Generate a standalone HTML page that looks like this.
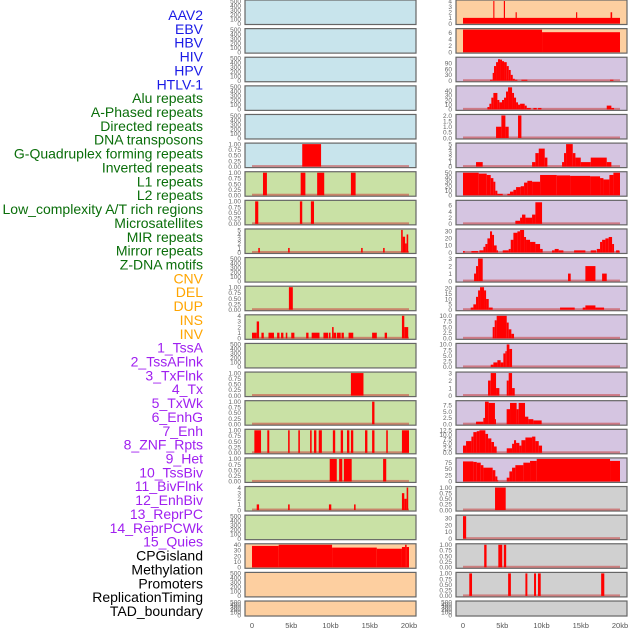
<!DOCTYPE html>
<html><head><meta charset="utf-8"><style>
html,body{margin:0;padding:0;background:#fff;width:630px;height:630px;overflow:hidden}
svg{display:block}
</style></head><body>
<svg id="chart" width="630" height="630" viewBox="0 0 630 630" xmlns="http://www.w3.org/2000/svg"></svg>
<script>
// ---- labels ----
const labelNames = ["AAV2","EBV","HBV","HIV","HPV","HTLV-1","Alu repeats","A-Phased repeats","Directed repeats","DNA transposons","G-Quadruplex forming repeats","Inverted repeats","L1 repeats","L2 repeats","Low_complexity A/T rich regions","Microsatellites","MIR repeats","Mirror repeats","Z-DNA motifs","CNV","DEL","DUP","INS","INV","1_TssA","2_TssAFlnk","3_TxFlnk","4_Tx","5_TxWk","6_EnhG","7_Enh","8_ZNF_Rpts","9_Het","10_TssBiv","11_BivFlnk","12_EnhBiv","13_ReprPC","14_ReprPCWk","15_Quies","CPGisland","Methylation","Promoters","ReplicationTiming","TAD_boundary"];
const labelGroups = [0,0,0,0,0,0,1,1,1,1,1,1,1,1,1,1,1,1,1,2,2,2,2,2,3,3,3,3,3,3,3,3,3,3,3,3,3,3,3,4,4,4,4,4];
const xTickValues = [0,5,10,15,20];
const xTickLabels = ["0","5kb","10kb","15kb","20kb"];

// ---- tick label sets ----
const t500 = ["0","100","200","300","400","500"];
const t1 = ["0.00","0.25","0.50","0.75","1.00"];

// ---- left column data: [startKb, endKb, value] ----
const L6 = [[6.4,8.8,1]];
const L7 = [[1.4,1.9,1],[6.2,6.8,1],[8.3,9.2,1],[12.6,13.2,1]];
const L8 = [[0.4,0.8,1],[6.1,6.4,1],[7.5,7.9,1]];
const L9 = [[0.8,1.0,1],[4.6,4.8,1],[13.9,14.1,1],[16.7,16.9,1],[19.0,19.2,5],[19.2,19.5,3.5],[19.5,19.7,2],[19.7,19.9,4]];
const L11 = [[4.7,5.2,1]];
const L12 = [[0,0.6,1],[0.6,0.9,3],[1.2,1.5,1],[2.1,2.8,1],[3.2,3.5,1],[3.7,4.0,1],[4.3,4.5,1],[5.0,5.4,1],[6.9,7.2,1],[7.6,8.6,1],[9.1,9.7,1],[9.8,10.0,1],[10.2,10.4,2],[10.4,10.7,1],[10.8,11.3,1],[11.4,11.7,1],[12.3,12.9,1],[15.3,15.9,1],[16.9,17.2,1],[19.1,19.4,4],[19.4,19.9,2]];
const L14 = [[12.6,14.2,1]];
const L15 = [[15.3,15.6,1]];
const L16 = [[0.3,1.15,1],[1.95,2.2,1],[4.6,4.8,1],[5.9,6.1,1],[7.4,7.6,1],[7.9,8.2,1],[8.5,8.9,1],[10.3,10.6,1],[11.3,11.6,1],[12.1,12.4,1],[12.6,12.9,1],[14.4,14.7,1],[15.3,15.6,1],[17.1,17.3,1],[19.1,20.0,1]];
const L17 = [[9.9,10.8,1],[11.1,11.5,1],[11.7,12.7,1],[16.7,17.1,1]];
const L18 = [[0.6,0.9,1],[4.6,4.8,1],[9.8,10.1,1],[13.0,13.2,1],[19.1,19.4,3],[19.4,19.7,2],[19.7,19.9,4]];
const L20 = [[0,3.4,38],[3.4,10.2,40],[10.2,15.9,35],[15.9,19.1,33],[19.1,19.5,36],[19.5,19.7,40],[19.7,20,36]];

// ---- right column data ----
const R1 = [[0,20,1],[3.86,4.0,4],[5.2,5.35,4],[6.7,6.85,2],[14.4,14.55,2],[18.8,19.0,2]];
const R2 = [[0,10.07,7],[10.07,20,6.2]];
const R3 = [[3.44,3.78,5],[3.78,3.95,40],[3.95,4.21,75],[4.21,4.46,95],[4.46,4.72,110],[4.72,4.97,108],[4.97,5.23,100],[5.23,5.57,95],[5.57,5.83,75],[5.83,6.08,55],[6.08,6.34,30],[6.34,6.6,10],[6.6,6.93,5],[7.44,8.2,5],[18.73,19.16,5]];
const R4 = [[3.11,3.36,5],[3.36,3.61,12],[3.61,3.87,25],[3.87,4.38,35],[4.38,4.63,20],[4.63,4.97,15],[4.97,5.23,20],[5.23,5.48,25],[5.48,5.74,38],[5.74,6.25,47],[6.25,6.5,35],[6.5,6.76,25],[6.76,7.01,15],[7.01,7.27,10],[7.27,7.86,12],[7.86,8.12,8],[8.12,8.63,3],[8.97,9.39,3],[9.56,9.99,3],[18.31,18.9,8],[18.9,19.24,3]];
const R5 = [[4.21,4.89,1],[4.89,5.4,2],[5.4,5.82,1],[7.01,7.44,2]];
const R6 = [[1.66,2.51,1],[8.8,9.22,1],[9.22,9.65,3],[9.65,10.41,4],[10.41,10.75,2],[12.62,12.87,1],[12.87,13.13,3],[13.13,13.98,5],[13.98,14.32,3],[14.32,15.0,2],[15.0,16.27,1],[16.27,18.31,2],[18.31,18.9,1]];
const R7 = [[0,2.0,50],[2.0,3.02,48],[3.02,3.53,45],[3.53,3.87,38],[3.87,4.12,30],[4.12,4.38,10],[4.38,5.06,3],[5.65,5.99,3],[5.99,6.42,8],[6.42,6.76,12],[6.76,7.35,18],[7.35,7.78,20],[7.78,8.2,28],[8.2,8.8,32],[8.8,9.82,30],[9.82,11.94,45],[11.94,13.64,44],[13.64,16.19,43],[16.19,17.46,42],[17.46,17.89,38],[17.89,18.65,35],[18.65,19.16,45],[19.16,20,50]];
const R8 = [[6.67,7.27,1],[7.27,7.52,2],[7.52,7.95,3],[7.95,8.8,2],[8.8,9.22,3],[9.22,10.07,7]];
const R9 = [[0,0.22,2],[1.07,1.92,2],[2.09,2.6,3],[2.6,2.85,8],[2.85,3.11,12],[3.11,3.44,20],[3.44,3.7,30],[3.7,3.95,25],[3.95,4.29,10],[4.29,4.46,3],[5.06,5.82,3],[5.82,6.08,5],[6.08,6.42,18],[6.42,6.93,28],[6.93,7.27,30],[7.27,7.78,32],[7.78,8.03,22],[8.03,8.54,18],[8.54,9.22,15],[9.22,9.82,12],[9.82,10.15,5],[11.34,11.68,3],[11.68,12.19,5],[12.19,12.79,3],[14.15,15.59,3],[16.27,16.95,3],[17.04,17.46,5],[17.46,17.72,15],[17.72,18.14,18],[18.14,18.56,20],[18.56,18.99,22],[18.99,19.24,12],[19.5,19.92,3]];
const R10 = [[1.41,1.66,1],[1.66,1.92,2],[1.92,2.51,3],[13.38,13.72,1],[15.59,16.87,2],[17.72,18.31,1]];
const R11 = [[0.98,1.32,2],[1.32,1.66,5],[1.66,1.92,12],[1.92,2.17,18],[2.17,2.68,21],[2.68,2.94,18],[2.94,3.28,10],[3.28,3.78,2],[12.36,14.23,2],[15.25,15.59,2],[15.59,16.87,4],[16.87,17.97,2]];
const R12 = [[3.78,4.04,5],[4.04,4.29,8],[4.29,5.57,10],[5.57,5.82,7],[5.82,6.16,4],[6.16,6.5,2]];
const R13 = [[3.53,3.87,1],[3.87,4.38,2],[4.38,4.8,3],[4.8,5.14,2],[5.14,5.4,6],[5.4,5.57,7],[5.57,5.91,10],[5.91,6.25,8]];
const R14 = [[3.19,3.53,2],[3.53,4.21,3],[4.21,4.63,1],[5.57,5.82,2],[5.82,6.25,3],[6.25,6.59,1]];
const R15 = [[1.66,2.59,1],[2.59,2.8,2.5],[2.8,3.27,9],[3.27,4.07,8.5],[4.07,4.2,2],[5.56,5.99,6],[5.99,6.83,8.5],[6.83,7.09,6],[7.09,7.9,8.5],[7.9,8.32,3],[8.32,8.96,2],[8.96,10.02,1.5]];
const R16 = [[0,0.39,4],[0.39,1.07,6.5],[1.07,1.32,9],[1.32,1.75,11.5],[1.75,2.09,12],[2.09,2.85,12.5],[2.85,3.19,10.5],[3.19,3.61,8],[3.61,3.95,6],[3.95,4.29,3.5],[5.57,6.25,2.5],[6.25,6.5,5],[6.5,6.76,7],[6.76,7.18,5.5],[7.18,7.44,4],[7.44,7.95,7],[7.95,8.8,8.5],[8.8,9.22,9],[9.22,9.65,6.5],[9.65,10.07,4]];
const R17 = [[0,1.32,80],[1.32,1.75,78],[1.75,2.26,75],[2.26,2.6,65],[2.6,3.44,55],[3.44,3.78,55],[3.78,4.12,45],[4.12,4.38,20],[4.38,4.46,5],[5.57,5.91,15],[5.91,6.25,40],[6.25,6.67,55],[6.67,7.69,65],[7.69,8.54,75],[8.54,9.39,82],[9.39,18.73,90],[18.73,20,82]];
const R18 = [[4.08,5.44,1]];
const R19 = [[0,0.4,33]];
const R20 = [[2.7,3.0,1],[4.5,5.0,1],[5.2,5.5,1]];
const R21 = [[0.8,1.15,1],[5.75,6.1,1],[7.95,8.2,1],[9.05,9.3,1],[9.55,9.9,1],[17.6,18.0,1]];

const leftData = [null,null,null,null,null,L6,L7,L8,L9,null,L11,L12,null,L14,L15,L16,L17,L18,null,L20,null,null];
const leftMax  = [500,500,500,500,500,1,1,1,5,500,1,4,500,1,1,1,1,4,500,40,500,500];
const leftTicks = [t500,t500,t500,t500,t500,t1,t1,t1,["0","1","2","3","4","5"],t500,t1,["0","1","2","3","4"],t500,t1,t1,t1,t1,["0","1","2","3","4"],t500,["0","10","20","30","40"],t500,t500];
const rightData = [R1,R2,R3,R4,R5,R6,R7,R8,R9,R10,R11,R12,R13,R14,R15,R16,R17,R18,R19,R20,R21,null];
const rightMax  = [4,7,115,48,2,5,50,7.3,32,3,21,10,10,3,9,12.5,90,1,33,1,1,500];
const rightTicks = [["0","1","2","3","4"],["0","2","4","6"],["0","30","60","90"],["0","10","20","30","40"],["0.0","0.5","1.0","1.5","2.0"],["0","1","2","3","4","5"],["0","10","20","30","40","50"],["0","2","4","6"],["0","10","20","30"],["0","1","2","3"],["0","5","10","15","20"],["0.0","2.5","5.0","7.5","10.0"],["0.0","2.5","5.0","7.5","10.0"],["0","1","2","3"],["0.0","2.5","5.0","7.5"],["0.0","2.5","5.0","7.5","10.0","12.5"],["0","25","50","75"],t1,["0","10","20","30"],t1,t1,t500];

const svg = document.getElementById('chart');
const NS = 'http://www.w3.org/2000/svg';
function mk(tag, attrs){const e=document.createElementNS(NS,tag);for(const k in attrs)e.setAttribute(k,attrs[k]);svg.appendChild(e);return e;}

const groupColors = ["#1a1ae6","#0a6e0a","#ffa500","#a020f0","#000000"];
labelNames.forEach((n,i)=>{
  const t = mk('text',{x:203,y:15+i*13.86+5,'text-anchor':'end','font-family':'Liberation Sans, sans-serif','font-size':14,fill:groupColors[labelGroups[i]]});
  t.textContent = n;
  
  
});

const leftBg = i => i<6 ? '#c8e4ec' : (i<19 ? '#c9e1a5' : '#fdcfa0');
const rightBg = i => i<2 ? '#fdcfa0' : (i<17 ? '#d5c5e1' : '#d0d0d0');

function panel(px, data, ymax, ticks, bg, i, side){
  const top = i*28.62, h = (i===21) ? 15 : 24.5;
  const x0 = px+7, xs = 157/20;
  const xScale = kb => x0 + kb*xs;
  const yBot = top+h-1, yTop = top+1;
  const yScale = v => yBot - (v/ymax)*(yBot-yTop);
  const r = mk('rect',{x:px,y:top,width:171,height:h,fill:bg,stroke:'#666','stroke-width':1.2});
  
  
  if (data){
    const b = mk('rect',{x:xScale(0),y:yBot-1.5,width:xScale(20)-xScale(0),height:2,fill:'rgba(200,60,60,0.55)'});
    
    
    data.forEach(s=>{
      const y = yScale(Math.min(s[2], ymax*1.02));
      const bar = mk('rect',{x:xScale(s[0]),y:Math.max(y,top+0.6),width:Math.max(xScale(s[1])-xScale(s[0]),0.8),height:yBot-Math.max(y,top+0.6),fill:'#ff0000'});
      
      
    });
  }
  ticks.forEach(lbl=>{
    const v = parseFloat(lbl);
    const t = mk('text',{x:px-4,y:yScale(v)+2.3,'text-anchor':'end','font-family':'Liberation Sans, sans-serif','font-size':6.5,fill:'#666'});
    t.textContent = lbl;
    
    
  });
  if (i===21){
    xTickValues.forEach((v,k)=>{
      const t = mk('text',{x:xScale(v),y:628,'text-anchor':'middle','font-family':'Liberation Sans, sans-serif','font-size':7.5,fill:'#555'});
      t.textContent = xTickLabels[k];
      
      
    });
  }
}
for (let i=0;i<22;i++){
  panel(245, leftData[i], leftMax[i], leftTicks[i], leftBg(i), i, 'left');
  panel(456, rightData[i], rightMax[i], rightTicks[i], rightBg(i), i, 'right');
}
</script>
</body></html>
